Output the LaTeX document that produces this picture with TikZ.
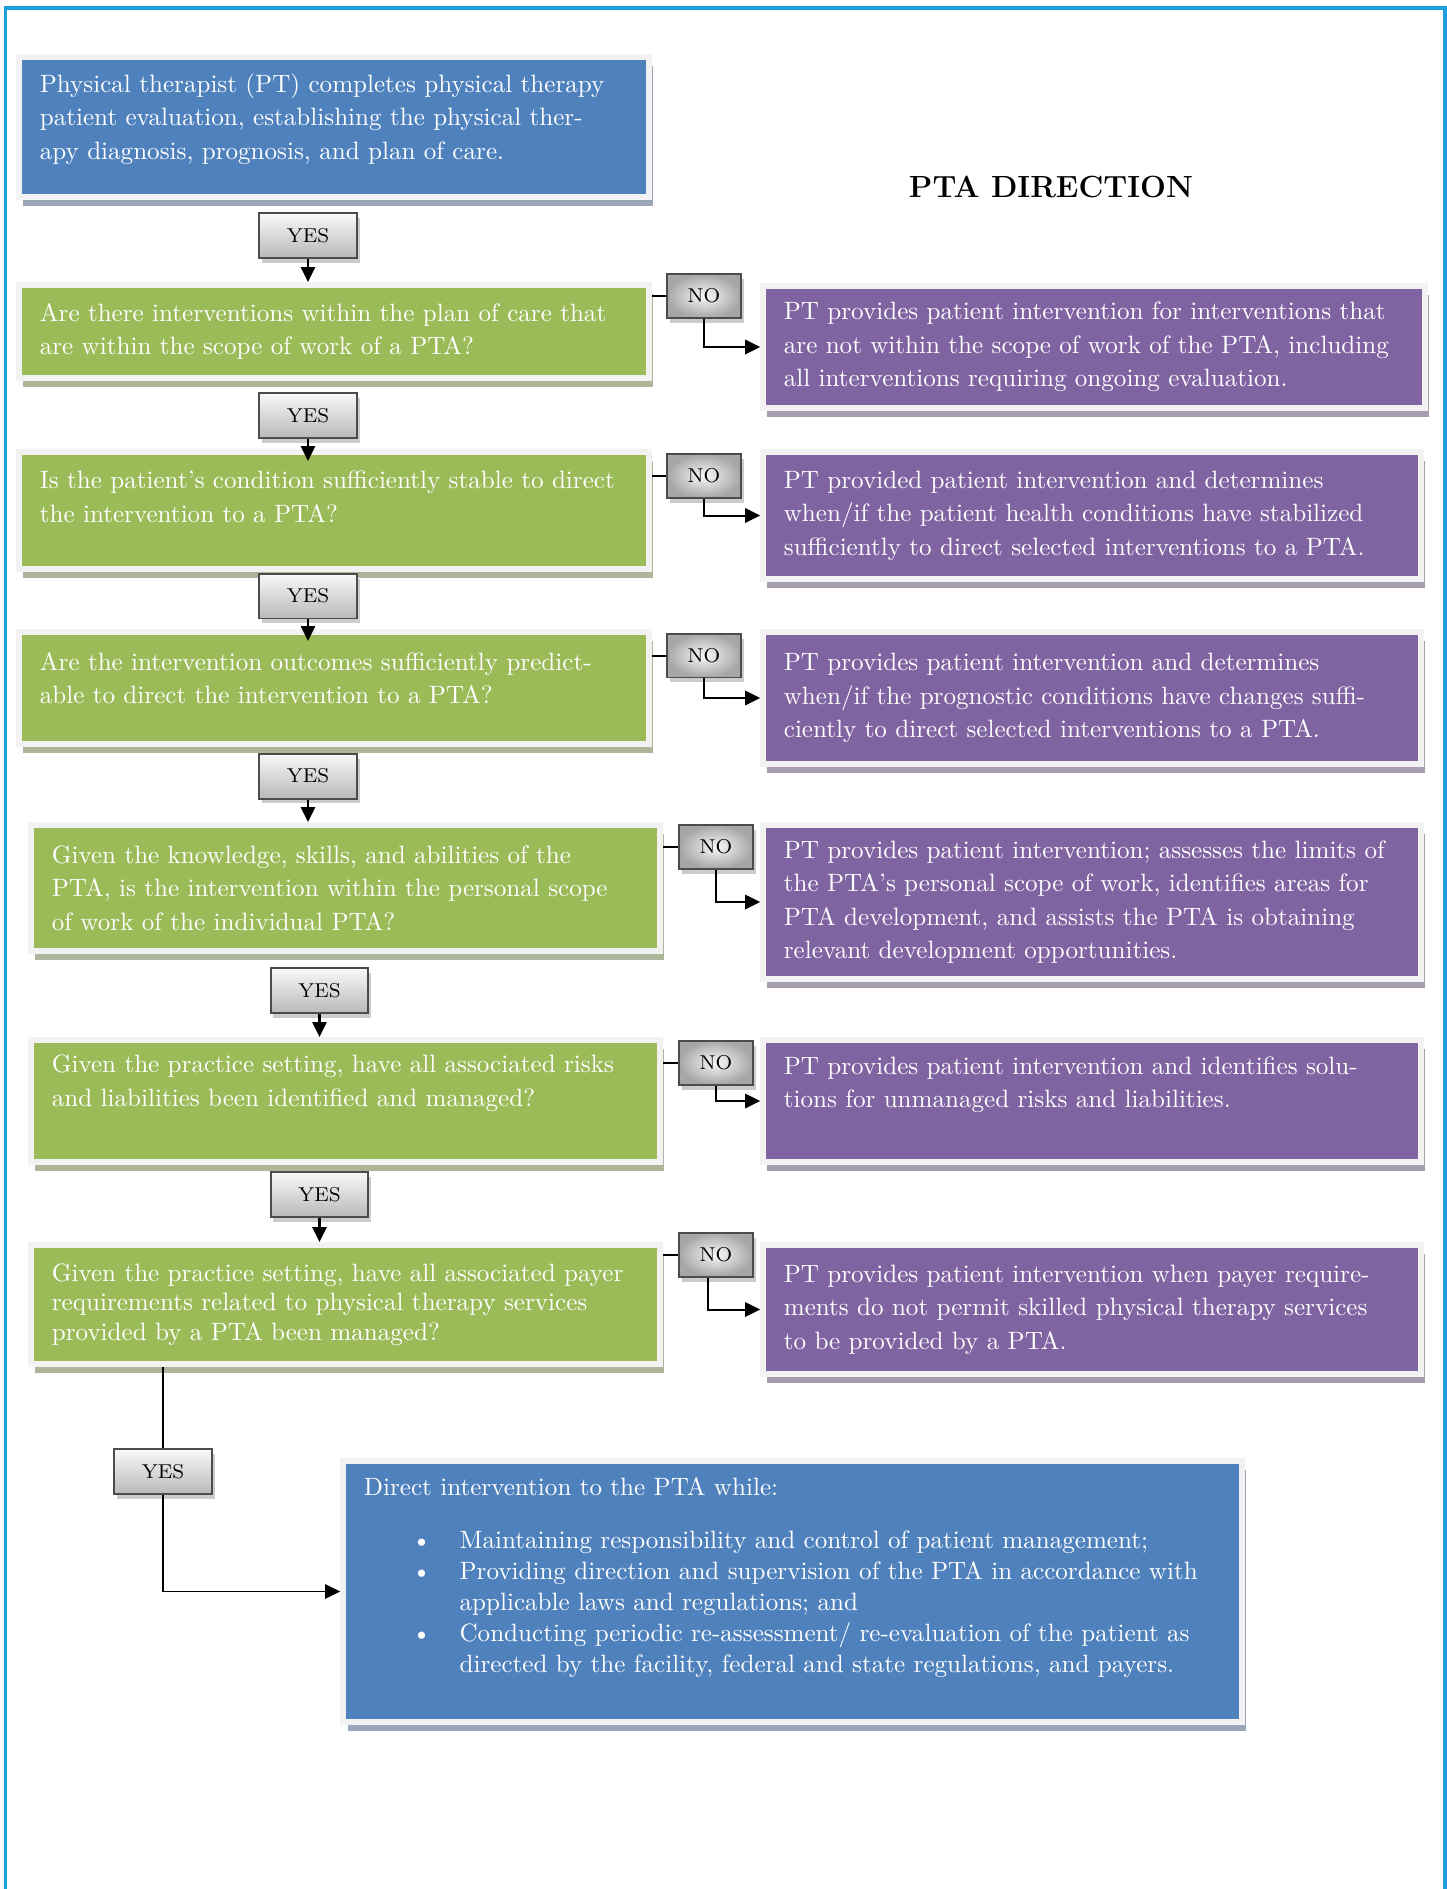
\documentclass[tikz,border=0pt]{standalone}
\usepackage{xcolor}
\usetikzlibrary{arrows.meta,shadows,calc}

\definecolor{ptablue}{HTML}{4F81BD}
\definecolor{ptagreen}{HTML}{9BBB59}
\definecolor{ptapurple}{HTML}{8064A2}
\definecolor{ptaborder}{HTML}{F2F2F2}
\definecolor{ptaframe}{HTML}{1E9DDF}

% bullet line with hanging indent
\newcommand{\ptaitem}[1]{\endgraf\hangindent=1.34cm\hangafter=1\hspace*{0.67cm}\makebox[0.67cm][l]{\textbullet}#1\endgraf}

\begin{document}
\begin{tikzpicture}[x=0.014cm,y=-0.014cm,
  >={Triangle[length=0.21cm,width=0.2cm]},
  ptabox/.style={draw=ptaborder,line width=0.084cm,text=white,align=left,
    inner xsep=0.29cm,inner ysep=0pt,outer sep=0.042cm,
    font=\fontsize{10}{13.3}\selectfont},
  bluebox/.style={ptabox,fill=ptablue,
    drop shadow={shadow xshift=0.06cm,shadow yshift=-0.126cm,opacity=1,fill=ptablue!40!gray!70}},
  greenbox/.style={ptabox,fill=ptagreen,text width=8.24cm,
    drop shadow={shadow xshift=0.06cm,shadow yshift=-0.126cm,opacity=1,fill=ptagreen!40!gray!70}},
  purplebox/.style={ptabox,fill=ptapurple,text width=8.632cm,
    drop shadow={shadow xshift=0.06cm,shadow yshift=-0.126cm,opacity=1,fill=ptapurple!40!gray!70}},
  padbelow/.style={execute at end node={\endgraf\vspace*{#1}}},
  yesbox/.style={draw=gray!60!black,line width=0.028cm,top color=gray!5,bottom color=gray!55,
    minimum width=1.372cm,minimum height=0.63cm,inner sep=0pt,font=\fontsize{8}{9}\selectfont,
    drop shadow={shadow xshift=0.04cm,shadow yshift=-0.07cm,opacity=1,fill=gray!40}},
  nobox/.style={yesbox,shading=radial,inner color=gray!5,outer color=gray!70,
    minimum width=1.036cm,minimum height=0.616cm}]
\useasboundingbox (0,0) rectangle (1447,1889);
\draw[ptaframe,line width=0.056cm] (5.5,1889) -- (5.5,7.5) -- (1444.5,7.5) -- (1444.5,1889);

\node[font=\fontsize{12.2}{15}\selectfont\bfseries] (title) at (1051,187) {PTA DIRECTION};

% left column
\node[bluebox,text width=8.24cm,minimum height=1.96cm,padbelow=0.22cm] (B1) at (334,127)
  {Physical therapist (PT) completes physical therapy\\patient evaluation, establishing the physical ther-\\apy diagnosis, prognosis, and plan of care.};
\node[yesbox] (Y1) at (308,235.5) {YES};
\node[greenbox,minimum height=1.302cm] (B2) at (334,331.5)
  {Are there interventions within the plan of care that\\are within the scope of work of a PTA?};
\node[yesbox] (Y2) at (308,415.5) {YES};
\node[greenbox,minimum height=1.638cm,padbelow=0.38cm] (B3) at (334,510.5)
  {Is the patient’s condition sufficiently stable to direct\\the intervention to a PTA?};
\node[yesbox] (Y3) at (308,596) {YES};
\node[greenbox,minimum height=1.568cm,padbelow=0.28cm] (B4) at (334,688)
  {Are the intervention outcomes sufficiently predict-\\able to direct the intervention to a PTA?};
\node[yesbox] (Y4) at (308,776) {YES};
\node[greenbox,text width=8.226cm,minimum height=1.764cm] (B5) at (345.5,888)
  {Given the knowledge, skills, and abilities of the\\PTA, is the intervention within the personal scope\\of work of the individual PTA?};
\node[yesbox] (Y5) at (319.5,990.5) {YES};
\node[greenbox,text width=8.226cm,minimum height=1.708cm,padbelow=0.5cm] (B6) at (345.5,1101)
  {Given the practice setting, have all associated risks\\and liabilities been identified and managed?};
\node[yesbox] (Y6) at (319.5,1194.5) {YES};
\node[greenbox,text width=8.226cm,minimum height=1.666cm,font=\fontsize{10}{11.8}\selectfont] (B7) at (345.5,1304.5)
  {Given the practice setting, have all associated payer\\requirements related to physical therapy services\\provided by a PTA been managed?};
\node[yesbox] (Y7) at (163,1471.5) {YES};
\node[bluebox,text width=12.006cm,minimum height=3.654cm,padbelow=0.4cm,font=\fontsize{10}{12.3}\selectfont] (B8) at (792.5,1591.5)
  {Direct intervention to the PTA while:\endgraf\vspace{9pt}
   \ptaitem{Maintaining responsibility and control of patient management;}
   \ptaitem{Providing direction and supervision of the PTA in accordance with\newline applicable laws and regulations; and}
   \ptaitem{Conducting periodic re-assessment/ re-evaluation of the patient as\newline directed by the facility, federal and state regulations, and payers.}};

% right column
\node[nobox] (N1) at (704,296) {NO};
\node[purplebox,text width=8.688cm,minimum height=1.708cm] (P1) at (1094,347)
  {PT provides patient intervention for interventions that\\are not within the scope of work of the PTA, including\\all interventions requiring ongoing evaluation.};
\node[nobox] (N2) at (704,476) {NO};
\node[purplebox,minimum height=1.778cm] (P2) at (1092,515.5)
  {PT provided patient intervention and determines\\when/if the patient health conditions have stabilized\\sufficiently to direct selected interventions to a PTA.};
\node[nobox] (N3) at (704,655.5) {NO};
\node[purplebox,minimum height=1.848cm] (P3) at (1092,698)
  {PT provides patient intervention and determines\\when/if the prognostic conditions have changes suffi-\\ciently to direct selected interventions to a PTA.};
\node[nobox] (N4) at (716,847) {NO};
\node[purplebox,minimum height=2.156cm] (P4) at (1092,902)
  {PT provides patient intervention; assesses the limits of\\the PTA’s personal scope of work, identifies areas for\\PTA development, and assists the PTA is obtaining\\relevant development opportunities.};
\node[nobox] (N5) at (716,1062.5) {NO};
\node[purplebox,minimum height=1.708cm,padbelow=0.45cm] (P5) at (1092,1101)
  {PT provides patient intervention and identifies solu-\\tions for unmanaged risks and liabilities.};
\node[nobox] (N6) at (716,1254.5) {NO};
\node[purplebox,minimum height=1.806cm] (P6) at (1092,1309.5)
  {PT provides patient intervention when payer require-\\ments do not permit skilled physical therapy services\\to be provided by a PTA.};

% connectors
\foreach \y/\b/\d in {Y1/B2/0,Y2/B3/12,Y3/B4/12,Y4/B5/0,Y5/B6/0,Y6/B7/0}
  {\draw[->,line width=0.8pt] (\y.south) -- ($(\y.south |- \b.north)+(0,\d)$);}
\foreach \b/\n/\p in {B2/N1/P1,B3/N2/P2,B4/N3/P3,B5/N4/P4,B6/N5/P5,B7/N6/P6}
  {\draw[line width=0.8pt] (\b.east |- \n.west) -- (\n.west);}
\foreach \n/\p in {N1/P1,N2/P2,N3/P3,N4/P4,N5/P5}
  {\draw[->,line width=0.8pt] (\n.south) |- (\p.west);}
\draw[->,line width=0.8pt] ($(N6.south)+(-8,0)$) |- (P6.west);
\draw[line width=0.6pt] (Y7.north |- B7.south) -- (Y7.north);
\draw[->,line width=0.6pt] (Y7.south) |- (B8.west);
\end{tikzpicture}
\end{document}
